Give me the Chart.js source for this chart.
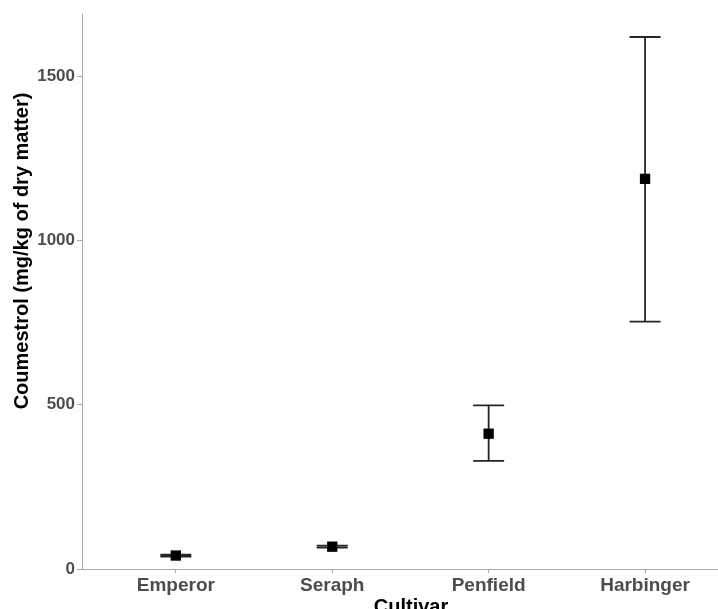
<!DOCTYPE html>
<html>
<head>
<meta charset="utf-8">
<script src="https://cdn.jsdelivr.net/npm/chart.js@4/dist/chart.umd.min.js"></script>
<style>
  html, body { margin: 0; padding: 0; background: #fff; }
  #wrap { width: 718px; height: 609px; }
</style>
</head>
<body>
<div id="wrap"><canvas id="chart" width="718" height="609"></canvas></div>
<script>
// values
const cultivars = ['Emperor', 'Seraph', 'Penfield', 'Harbinger'];
const means = [41, 68, 412, 1188];
const lower = [38, 65, 329, 753];
const upper = [44, 71, 498, 1620];
const yTicks = [0, 500, 1000, 1500];
const xTitle = 'Cultivar';
const yTitle = 'Coumestrol (mg/kg of dry matter)';

const family = '"Liberation Sans", Arial, sans-serif';

// whiskers drawn behind the points
const errorBars = {
    id: 'errorBars',
    beforeDatasetsDraw(chart) {
        const { ctx, scales: { x, y } } = chart;
        ctx.save();
        ctx.strokeStyle = '#262626';
        ctx.lineWidth = 1.8;
        const half = 15.5;
        cultivars.forEach((c, i) => {
            const px = x.getPixelForValue(i);
            const top = y.getPixelForValue(upper[i]);
            const bot = y.getPixelForValue(lower[i]);
            ctx.beginPath();
            ctx.moveTo(px, top); ctx.lineTo(px, bot);
            ctx.moveTo(px - half, top); ctx.lineTo(px + half, top);
            ctx.moveTo(px - half, bot); ctx.lineTo(px + half, bot);
            ctx.stroke();
        });
        ctx.restore();
    }
};

// axis titles, placed like the ggplot original (centred on the full panel)
const axisTitles = {
    id: 'axisTitles',
    afterDraw(chart) {
        const ctx = chart.ctx;
        ctx.save();
        ctx.fillStyle = '#000';
        ctx.font = 'bold 20px ' + family;
        ctx.textAlign = 'center';
        ctx.textBaseline = 'alphabetic';
        ctx.fillText(xTitle, 411, 613);
        ctx.translate(28, 251);
        ctx.rotate(-Math.PI / 2);
        ctx.fillText(yTitle, 0, 0);
        ctx.restore();
    }
};

new Chart(document.getElementById('chart'), {
    type: 'scatter',
    data: {
        datasets: [{
            data: means.map((m, i) => ({ x: i, y: m })),
            pointStyle: 'rect',
            pointRadius: 7.3,
            pointHoverRadius: 7.3,
            backgroundColor: '#000',
            borderColor: '#000',
            borderWidth: 0
        }]
    },
    options: {
        responsive: false,
        animation: false,
        layout: { autoPadding: false, padding: { top: 14, right: 1, left: 0, bottom: 0 } },
        plugins: { legend: { display: false }, tooltip: { enabled: false } },
        scales: {
            x: {
                type: 'linear',
                min: -0.6,
                max: 3.46,
                afterBuildTicks: axis => { axis.ticks = cultivars.map((c, i) => ({ value: i })); },
                afterFit: axis => { axis.height = 40; axis.paddingLeft = 0; axis.paddingRight = 0; },
                grid: { drawOnChartArea: false, drawTicks: true, tickLength: 4, color: '#aaa' },
                border: { display: true, color: '#aaa', width: 1 },
                ticks: { color: '#4d4d4d', font: { family, size: 19, weight: 'bold' }, padding: 1, maxRotation: 0,
                         callback: v => cultivars[v] }
            },
            y: {
                min: 0,
                max: 1690,
                afterBuildTicks: axis => { axis.ticks = yTicks.map(v => ({ value: v })); },
                afterFit: axis => { axis.width = 82; axis.paddingTop = 0; axis.paddingBottom = 0; },
                grid: { drawOnChartArea: false, drawTicks: true, tickLength: 5, color: '#aaa' },
                border: { display: true, color: '#aaa', width: 1 },
                ticks: { color: '#4d4d4d', font: { family, size: 17, weight: 'bold' }, padding: 2,
                         callback: v => String(v) }
            }
        }
    },
    plugins: [errorBars, axisTitles]
});
</script>
</body>
</html>
